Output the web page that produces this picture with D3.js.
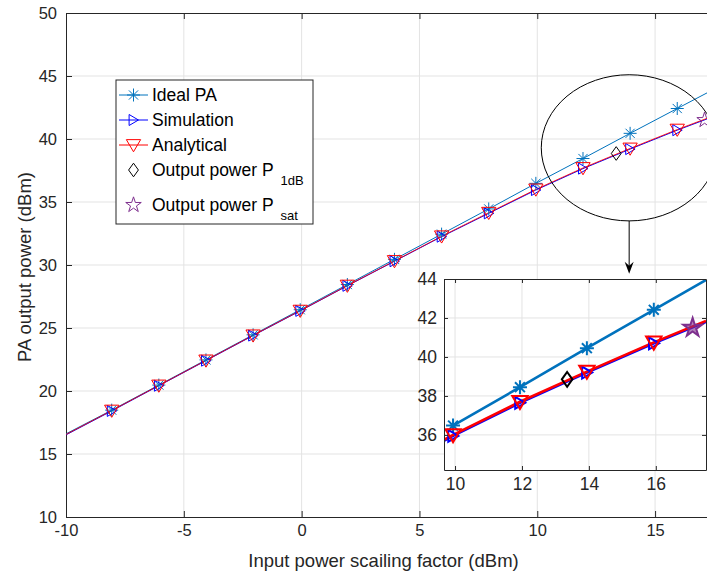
<!DOCTYPE html>
<html><head><meta charset="utf-8">
<script src="https://cdn.jsdelivr.net/npm/d3@7"></script>
<style>body{margin:0;background:#fff;} svg{display:block;font-family:"Liberation Sans",Arial,Helvetica,sans-serif;}</style>
</head><body><svg id="c" width="707" height="573"></svg>
<script>
// ---- data ----
const xTicks = [-10, -5, 0, 5, 10, 15];
const yTicks = [10, 15, 20, 25, 30, 35, 40, 45, 50];
const insetXTicks = [10, 12, 14, 16];
const insetYTicks = [36, 38, 40, 42, 44];
const inputPower = [-8.06, -6.06, -4.06, -2.06, -0.06, 1.94, 3.94, 5.94, 7.94, 9.94, 11.94, 13.94, 15.94];
const idealPA    = [18.48, 20.47, 22.47, 24.46, 26.45, 28.45, 30.45, 32.45, 34.45, 36.48, 38.45, 40.45, 42.42];
const simulation = [18.42, 20.42, 22.41, 24.40, 26.36, 28.35, 30.30, 32.25, 34.10, 35.95, 37.65, 39.20, 40.70];
const analytical = [18.45, 20.44, 22.43, 24.42, 26.38, 28.37, 30.32, 32.28, 34.15, 36.00, 37.70, 39.25, 40.75];
const lineEndsX = [-10, 17.5];
const idealEnds = [16.6, 43.95];
const analyticalEnds = [16.55, 41.85];
const p1dBX = [13.35], p1dBY = [38.85];
const psatX = [17.1],  psatY = [41.5];
const zoomCenter = [13.9, 39.3], zoomRadius = [3.73, 5.8];
const arrowEndY = 29.3;

const seriesNames = ["Ideal PA", "Simulation", "Analytical"];
const C = {ideal: "#0072BD", sim: "#0000FF", ana: "#FF0000", p1: "#000000", sat: "#7E2F8E", axis: "#262626", grid: "#e3e3e3"};
const fmt = d => String(d);

// ---- markers ----
function asterisk(s){const r=s/2,a=r*0.707;return `M${-r},0L${r},0M0,${-r}L0,${r}M${-a},${-a}L${a},${a}M${-a},${a}L${a},${-a}`;}
function triRight(s){const h=s/2;return `M${-h*0.8},${-h}L${h*0.9},0L${-h*0.8},${h}Z`;}
function triDown(s){const h=s/2;return `M${-h},${-h*0.75}L${h},${-h*0.75}L0,${h*0.95}Z`;}
function diamond(s){const w=s*0.36,h=s*0.5;return `M0,${-h}L${w},0L0,${h}L${-w},0Z`;}
function pentagram(s){const R=s/2,r=R*0.382;let p=[];for(let i=0;i<10;i++){const a=-Math.PI/2+i*Math.PI/5;const rr=i%2?r:R;p.push([rr*Math.cos(a),rr*Math.sin(a)]);}return "M"+p.map(d=>d.join(",")).join("L")+"Z";}

const svg = d3.select("#c");
const font = "\"Liberation Sans\",Arial,Helvetica,sans-serif";

// ---- main axes ----
const L=66, R=714, T=13, B=517;
const x = d3.scaleLinear().domain([-10, 17.5]).range([L, R]);
const y = d3.scaleLinear().domain([10, 50]).range([B, T]);

const defs = svg.append("defs");
defs.append("clipPath").attr("id","mclip").append("rect").attr("x",L).attr("y",T).attr("width",R-L).attr("height",B-T);
defs.append("clipPath").attr("id","iclip");

const grid = svg.append("g");
grid.selectAll("line.v").data(xTicks.slice(1)).join("line").attr("x1",d=>x(d)).attr("x2",d=>x(d)).attr("y1",T).attr("y2",B).attr("stroke",C.grid);
grid.selectAll("line.h").data(yTicks.slice(1,-1)).join("line").attr("y1",d=>y(d)).attr("y2",d=>y(d)).attr("x1",L).attr("x2",R).attr("stroke",C.grid);

function styleAxis(g, fs){
  g.select(".domain").attr("stroke",C.axis);
  g.selectAll(".tick line").attr("stroke",C.axis);
  g.selectAll(".tick text").attr("fill",C.axis).style("font-size",fs+"px").style("font-family",font);
}
const xAxis = svg.append("g").attr("transform",`translate(0,${B})`)
  .call(d3.axisBottom(x).tickValues(xTicks).tickSizeInner(-6).tickSizeOuter(0).tickPadding(7).tickFormat(fmt));
styleAxis(xAxis,16.5);
const yAxis = svg.append("g").attr("transform",`translate(${L},0)`)
  .call(d3.axisLeft(y).tickValues(yTicks).tickSizeInner(-6).tickSizeOuter(0).tickPadding(9).tickFormat(fmt));
styleAxis(yAxis,16.5);
const xTop = svg.append("g").attr("transform",`translate(0,${T})`)
  .call(d3.axisTop(x).tickValues(xTicks).tickSizeInner(-6).tickSizeOuter(0).tickFormat(""));
styleAxis(xTop,16);

// data
const pts = (xs, ys) => xs.map((v,i)=>[v, ys[i]]);
const idealLine = [[lineEndsX[0],idealEnds[0]], ...pts(inputPower, idealPA), [lineEndsX[1],idealEnds[1]]];
const anaLine = [[lineEndsX[0],analyticalEnds[0]], ...pts(inputPower, analytical), [lineEndsX[1],analyticalEnds[1]]];
const simLine = [[lineEndsX[0],analyticalEnds[0]-0.03], ...pts(inputPower, simulation), [lineEndsX[1],analyticalEnds[1]-0.05]];

function drawData(g, sx, sy, o){
  const line = d3.line().x(d=>sx(d[0])).y(d=>sy(d[1]));
  g.append("path").datum(o.ideal).attr("d",line).attr("fill","none").attr("stroke",C.ideal).attr("stroke-width",o.lw);
  g.append("path").datum(o.sim).attr("d",line).attr("fill","none").attr("stroke",C.sim).attr("stroke-width",o.lw);
  g.append("path").datum(o.ana).attr("d",line).attr("fill","none").attr("stroke",C.ana).attr("stroke-width",o.lw).attr("stroke-opacity",o.redOp);
  const idx = o.idx;
  g.selectAll("path.st").data(idx).join("path").attr("transform",i=>`translate(${sx(inputPower[i])},${sy(idealPA[i])})`)
    .attr("d",asterisk(o.ms)).attr("fill","none").attr("stroke",C.ideal).attr("stroke-width",o.mw);
  g.selectAll("path.tr").data(idx).join("path").attr("transform",i=>`translate(${sx(inputPower[i])},${sy(simulation[i])})`)
    .attr("d",triRight(o.ms*0.85)).attr("fill","none").attr("stroke",C.sim).attr("stroke-width",o.mw);
  g.selectAll("path.td").data(idx).join("path").attr("transform",i=>`translate(${sx(inputPower[i])},${sy(analytical[i])})`)
    .attr("d",triDown(o.ms*1.1)).attr("fill","none").attr("stroke",C.ana).attr("stroke-width",o.mw);
  g.selectAll("path.dm").data(p1dBX).join("path").attr("transform",(d,i)=>`translate(${sx(d)},${sy(p1dBY[i])})`)
    .attr("d",diamond(o.ms*1.05)).attr("fill","none").attr("stroke",C.p1).attr("stroke-width",o.mw);
  g.selectAll("path.ps").data(psatX).join("path").attr("transform",(d,i)=>`translate(${sx(d)},${sy(psatY[i])})`)
    .attr("d",pentagram(o.ms*o.satScale)).attr("fill",C.sat).attr("fill-opacity",o.satFillOp).attr("stroke",C.sat).attr("stroke-width",o.mw);
}
const mg = svg.append("g").attr("clip-path","url(#mclip)");
drawData(mg, x, y, {ideal:idealLine, sim:simLine, ana:anaLine, lw:1, mw:1, ms:13, redOp:0.85, satFillOp:0, satScale:1.25, idx:d3.range(inputPower.length)});

// zoom ellipse + arrow
svg.append("ellipse").attr("cx",x(zoomCenter[0])).attr("cy",y(zoomCenter[1]))
  .attr("rx",x(zoomCenter[0]+zoomRadius[0])-x(zoomCenter[0])).attr("ry",y(zoomCenter[1]-zoomRadius[1])-y(zoomCenter[1]))
  .attr("fill","none").attr("stroke","#000").attr("stroke-width",1);
const ax = x(zoomCenter[0]), ay0 = y(zoomCenter[1]-zoomRadius[1]), ay1 = y(arrowEndY);
svg.append("line").attr("x1",ax).attr("x2",ax).attr("y1",ay0).attr("y2",ay1-6).attr("stroke","#000").attr("stroke-width",1);
svg.append("path").attr("d",`M${ax},${ay1}L${ax-4.5},${ay1-12}L${ax},${ay1-8}L${ax+4.5},${ay1-12}Z`).attr("fill","#000");

// ---- legend ----
const lg = svg.append("g");
lg.append("rect").attr("x",116).attr("y",80).attr("width",197).attr("height",144).attr("fill","#fff").attr("stroke",C.axis).attr("stroke-width",1);
const rowsY = [95,120,145,170,205];
const legendItems = [
  {label:seriesNames[0], color:C.ideal, line:true, mk:asterisk(13)},
  {label:seriesNames[1], color:C.sim, line:true, mk:triRight(11)},
  {label:seriesNames[2], color:C.ana, line:true, mk:triDown(14.3)},
  {label:"Output power P", sub:"1dB", color:C.p1, line:false, mk:diamond(13.6)},
  {label:"Output power P", sub:"sat", color:C.sat, line:false, mk:pentagram(16.3)}
];
legendItems.forEach((it,i)=>{
  const cy = rowsY[i];
  if(it.line) lg.append("line").attr("x1",119).attr("x2",148).attr("y1",cy).attr("y2",cy).attr("stroke",it.color).attr("stroke-width",1);
  lg.append("path").attr("transform",`translate(133.5,${cy})`).attr("d",it.mk).attr("fill","none").attr("stroke",it.color).attr("stroke-width",1);
  const t = lg.append("text").attr("x",152).attr("y",cy+6).attr("fill","#000").style("font-size","17.5px").style("font-family",font).text(it.label);
  if(it.sub){
    const w = t.node().getComputedTextLength();
    lg.append("text").attr("x",152+w+7).attr("y",cy+15).attr("fill","#000").style("font-size","13px").style("font-family",font).text(it.sub);
  }
});

// ---- axis labels ----
svg.append("text").attr("x",(L+707)/2 - 3).attr("y",567).attr("text-anchor","middle").attr("fill",C.axis)
  .style("font-size","18.5px").style("font-family",font).text("Input power scailing factor (dBm)");
svg.append("text").attr("transform",`translate(31,267) rotate(-90)`).attr("text-anchor","middle").attr("fill",C.axis)
  .style("font-size","18.5px").style("font-family",font).text("PA output power (dBm)");

// ---- inset ----
const iL=444, iR=706, iT=279, iB=470;
const ix = d3.scaleLinear().domain([9.67, 17.5]).range([iL, iR]);
const iy = d3.scaleLinear().domain([34.2, 44]).range([iB, iT]);
defs.select("#iclip").append("rect").attr("x",iL).attr("y",iT).attr("width",iR-iL).attr("height",iB-iT);
const ig = svg.append("g");
ig.append("rect").attr("x",iL).attr("y",iT).attr("width",iR-iL).attr("height",iB-iT).attr("fill","#fff");
ig.selectAll("line.v").data(insetXTicks).join("line").attr("x1",d=>ix(d)).attr("x2",d=>ix(d)).attr("y1",iT).attr("y2",iB).attr("stroke",C.grid);
ig.selectAll("line.h").data(insetYTicks.slice(0,-1)).join("line").attr("y1",d=>iy(d)).attr("y2",d=>iy(d)).attr("x1",iL).attr("x2",iR).attr("stroke",C.grid);
const idd = ig.append("g").attr("clip-path","url(#iclip)");
const inIdx = d3.range(inputPower.length).filter(i=>inputPower[i]>9);
const idealInset = [...pts(inputPower, idealPA).filter(d=>d[0]>9), [lineEndsX[1],idealEnds[1]]];
drawData(idd, ix, iy, {ideal:idealInset, sim:simLine, ana:anaLine, lw:2.6, mw:2, ms:14, redOp:1, satFillOp:0.6, satScale:1.4, idx:inIdx});
const ixa = ig.append("g").attr("transform",`translate(0,${iB})`)
  .call(d3.axisBottom(ix).tickValues(insetXTicks).tickSizeInner(-4).tickSizeOuter(0).tickPadding(8).tickFormat(fmt));
styleAxis(ixa,17.5);
const iya = ig.append("g").attr("transform",`translate(${iL},0)`)
  .call(d3.axisLeft(iy).tickValues(insetYTicks).tickSizeInner(-4).tickSizeOuter(0).tickPadding(7).tickFormat(fmt));
styleAxis(iya,17.5);
const ixt = ig.append("g").attr("transform",`translate(0,${iT})`)
  .call(d3.axisTop(ix).tickValues(insetXTicks).tickSizeInner(-4).tickSizeOuter(0).tickFormat(""));
styleAxis(ixt,17);
const iyr = ig.append("g").attr("transform",`translate(${iR},0)`)
  .call(d3.axisRight(iy).tickValues(insetYTicks).tickSizeInner(-4).tickSizeOuter(0).tickFormat(""));
styleAxis(iyr,17);
</script></body></html>
